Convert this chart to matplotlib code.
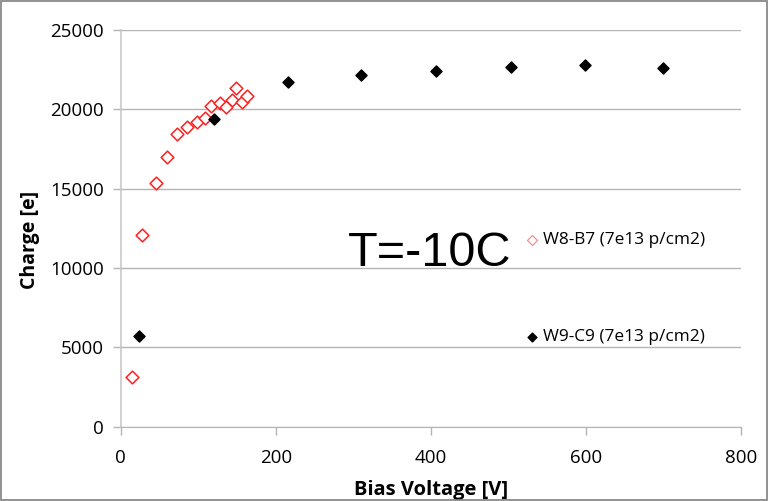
import matplotlib
matplotlib.use('Agg')
import matplotlib.pyplot as plt
from matplotlib.patches import Rectangle

# Charge collected vs bias voltage, two irradiated sensors at T=-10C
W8_VOLTAGE = [15, 27, 45, 59, 73, 86, 98, 108, 117, 128, 136, 143, 149, 156, 163]
W8_CHARGE = [3150, 12090, 15360, 17020, 18450, 18870, 19230, 19440,
             20230, 20420, 20170, 20590, 21330, 20470, 20840]

W9_VOLTAGE = [23, 120, 215, 310, 406, 503, 599, 699]
W9_CHARGE = [5700, 19420, 21700, 22170, 22420, 22700, 22800, 22620]

W8_LABEL = 'W8-B7 (7e13 p/cm2)'
W9_LABEL = 'W9-C9 (7e13 p/cm2)'
X_TICKS = [0, 200, 400, 600, 800]
Y_TICKS = [0, 5000, 10000, 15000, 20000, 25000]

GRID_GREY = '#b4b4b4'
TICK_FONT = 'Open Sans'


def main():
    fig = plt.figure(figsize=(7.69, 5.01), dpi=100)
    fig.patches.append(Rectangle((0.001, 0.001), 0.997, 0.997, transform=fig.transFigure,
                                 fill=False, edgecolor='#7f7f7f', linewidth=1.2))
    axes = fig.add_axes([0.157, 0.148, 0.807, 0.792])

    axes.scatter(W8_VOLTAGE, W8_CHARGE, marker='D', s=42, facecolors='white',
                 edgecolors='#ff2020', linewidths=1.1, zorder=3)
    axes.scatter(W9_VOLTAGE, W9_CHARGE, marker='D', s=32, color='black', zorder=3)

    axes.set_xlim(0, 800)
    axes.set_ylim(0, 25000)
    axes.set_xticks(X_TICKS)
    axes.set_yticks(Y_TICKS)
    axes.set_xticklabels([str(x) for x in X_TICKS], fontsize=13.5, family=TICK_FONT)
    axes.set_yticklabels([str(y) for y in Y_TICKS], fontsize=13.5, family=TICK_FONT)
    axes.tick_params(axis='both', colors=GRID_GREY, labelcolor='black', length=6, width=1)
    axes.tick_params(axis='x', pad=10)
    axes.tick_params(axis='y', pad=6)

    axes.grid(axis='y', color=GRID_GREY, linewidth=1)
    axes.set_axisbelow(True)
    for side in ('top', 'right'):
        axes.spines[side].set_visible(False)
    axes.spines['left'].set_color('#c8c8c8')
    axes.spines['left'].set_linewidth(1.2)
    axes.spines['bottom'].set_color(GRID_GREY)

    axes.set_xlabel('Bias Voltage [V]', fontsize=14.5, fontweight='bold', family=TICK_FONT)
    axes.set_ylabel('Charge [e]', fontsize=14, fontweight='bold', family=TICK_FONT)
    axes.xaxis.set_label_coords(0.5, -0.135)
    axes.yaxis.set_label_coords(-0.13, 0.47)

    # legend entries sit apart from each other inside the plot area
    legend_font = dict(fontsize=12.4, family=TICK_FONT, va='center')
    axes.scatter([530], [11750], marker='D', s=26, facecolors='white',
                 edgecolors='#ff8080', linewidths=0.8, clip_on=False)
    axes.text(544, 11750, W8_LABEL, **legend_font)
    axes.scatter([530], [5650], marker='D', s=20, color='black', clip_on=False)
    axes.text(544, 5650, W9_LABEL, **legend_font)

    axes.text(398, 10150, 'T=-10C', fontsize=35, family='Liberation Sans', ha='center', va='baseline')

    fig.savefig('out.png', dpi=100)


if __name__ == '__main__':
    main()
